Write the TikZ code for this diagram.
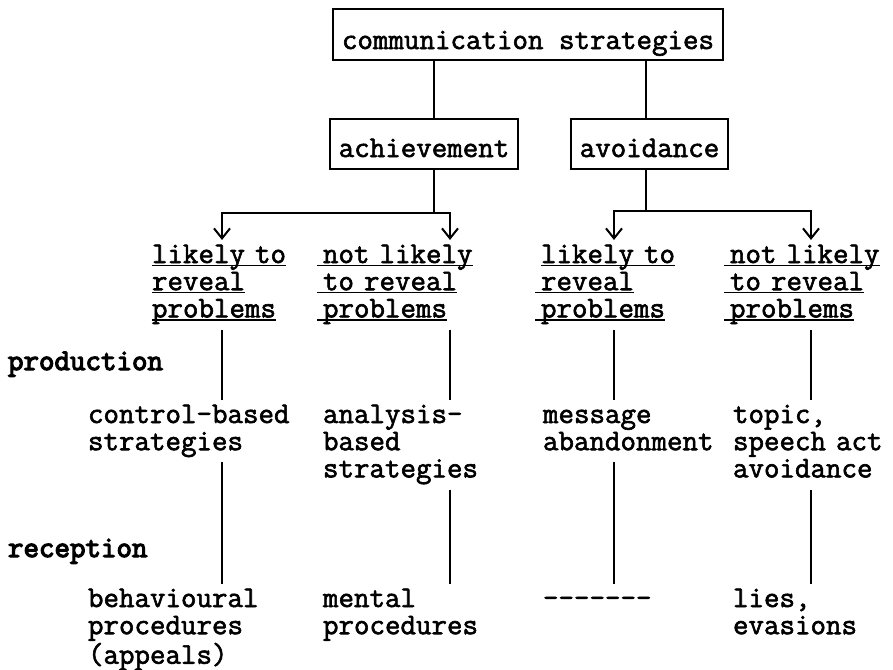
\documentclass[tikz,border=0pt]{standalone}
\usepackage{fontspec}
\setmonofont{Latin Modern Mono}[FakeBold=2]
\newfontfamily\labfont{Latin Modern Mono}[FakeBold=4]
\usetikzlibrary{arrows.meta}
\newcommand\tul[1]{\leavevmode\setbox0\hbox{#1}\rlap{\rule[-1.6pt]{\wd0}{0.8pt}}\box0}
\newcommand\ltul[1]{\leavevmode\llap{\rule[-1.6pt]{3pt}{0.8pt}}\tul{#1}}

\begin{document}
\begin{tikzpicture}[
        x=0.5pt,y=-0.5pt,
        line width=1pt,
        font=\ttfamily\fontsize{15.05}{13.6}\selectfont,
        box/.style={
          draw,
          inner xsep=0pt,
          inner ysep=0pt,
          text height=19pt,
          text depth=6pt,
          anchor=north
          },
        txt/.style={
          align=left,
          text width=110pt,
          anchor=base west,
          inner xsep=0pt,
          inner ysep=0pt,
          outer xsep=0pt,
          outer ysep=2pt,
          execute at begin node=\strut,
          execute at end node=\strut
          },
        >={Straight Barb[length=5pt,width=8pt]}
        ]
        \useasboundingbox (0,0) rectangle (893,669);
        \node[box, minimum width=195pt, text height=20pt, text depth=5.5pt] (top) at (528,8) {communication strategies};
        \node[box, minimum width=94pt] (ach) at (424,118) {achievement};
        \node[box, minimum width=78.5pt] (avo) at (649.5,118) {avoidance};
        % column heads
        \node[txt] (h1) at (152,263) {\tul{likely to}\\\tul{reveal}\\\tul{problems}};
        \node[txt] (h2) at (323,263) {\ltul{not likely}\\\ltul{to reveal}\\\ltul{problems}};
        \node[txt] (h3) at (541,263) {\tul{likely to}\\\ltul{reveal}\\\ltul{problems}};
        \node[txt] (h4) at (730,263) {\ltul{not likely}\\\ltul{to reveal}\\\ltul{problems}};
        \node[txt] (prod) at (8,370) {\labfont production};
        \node[txt] (rec) at (8,557) {\labfont reception};
        \node[txt] (s1) at (88,423) {control-based\\strategies};
        \node[txt] (s2) at (323,423) {analysis-\\based\\strategies};
        \node[txt] (s3) at (543,423) {message\\abandonment};
        \node[txt] (s4) at (733,423) {topic,\\speech act\\avoidance};
        \node[txt] (p1) at (88,607) {behavioural\\procedures\\(appeals)};
        \node[txt] (p2) at (323,607) {mental\\procedures};
        \node[txt] (p3) at (543,607) {-------};
        \node[txt] (p4) at (733,607) {lies,\\evasions};
        \coordinate (ax1) at (222,0);
        \coordinate (ax2) at (450,0);
        \coordinate (ax3) at (614,0);
        \coordinate (ax4) at (811,0);
        \coordinate (achj) at (434,213);
        \coordinate (avoj) at (646,211);
        \draw (top.south -| achj) -- (ach.north -| achj);
        \draw (top.south -| avoj) -- (avo.north -| avoj);
        \draw (ach.south -| achj) -- (achj);
        \draw (avo.south -| avoj) -- (avoj);
        \draw[->] (achj) -| (h1.north -| ax1);
        \draw[->] (achj) -| (h2.north -| ax2);
        \draw[->] (avoj) -| (h3.north -| ax3);
        \draw[->] (avoj) -| (h4.north -| ax4);
        \foreach \c in {1,...,4}
        {\draw (h\c.south -| ax\c) -- (s\c.north -| ax\c);
         \draw (s\c.south -| ax\c) -- (p\c.north -| ax\c);
        }
\end{tikzpicture}
\end{document}
